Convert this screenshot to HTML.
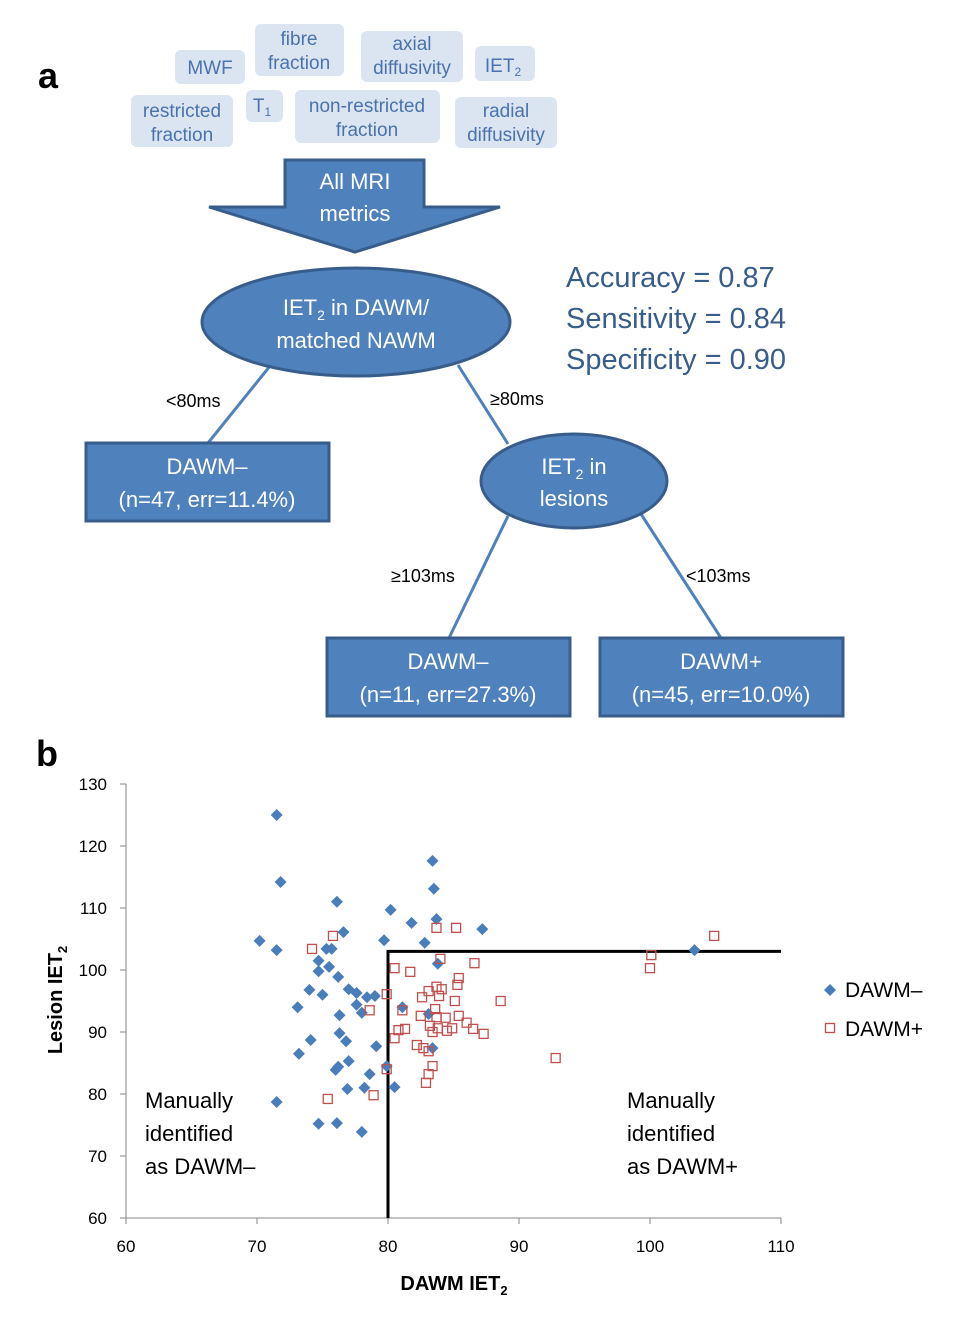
<!DOCTYPE html>
<html><head><meta charset="utf-8"><style>
html,body{margin:0;padding:0;background:#fff;}
svg{display:block;font-family:"Liberation Sans",sans-serif;}
</style></head><body>
<svg id="fig" width="976" height="1324" viewBox="0 0 976 1324">
<g>
<text x="38" y="88" font-size="36" font-weight="bold">a</text>
<g fill="#dbe5f1">
<rect x="175" y="50" width="70" height="34" rx="6"/>
<rect x="255" y="24" width="89" height="52" rx="6"/>
<rect x="361" y="31" width="102" height="51" rx="6"/>
<rect x="475" y="46" width="60" height="35" rx="6"/>
<rect x="131" y="95" width="102" height="52" rx="6"/>
<rect x="246" y="90" width="37" height="32" rx="6"/>
<rect x="295" y="90" width="145" height="53" rx="6"/>
<rect x="455" y="97" width="102" height="51" rx="6"/>
</g>
<g fill="#4a72ad" font-size="19" text-anchor="middle">
<text x="210" y="74">MWF</text>
<text x="299" y="45">fibre</text><text x="299" y="69">fraction</text>
<text x="412" y="50">axial</text><text x="412" y="74">diffusivity</text>
<text x="503" y="72">IET<tspan font-size="12" dy="4">2</tspan></text>
<text x="182" y="117">restricted</text><text x="182" y="141">fraction</text>
<text x="262" y="112">T<tspan font-size="12" dy="4">1</tspan></text>
<text x="367" y="112">non-restricted</text><text x="367" y="136">fraction</text>
<text x="506" y="117">radial</text><text x="506" y="141">diffusivity</text>
</g>
<polygon points="285,160 424,160 424,207 500,207 355,252 209,207 285,207" fill="#4f81bd" stroke="#385d8a" stroke-width="3"/>
<text x="355" y="189" fill="#fff" font-size="22" text-anchor="middle">All MRI</text>
<text x="355" y="221" fill="#fff" font-size="22" text-anchor="middle">metrics</text>
<g stroke="#4f81bd" stroke-width="3">
<line x1="270" y1="366" x2="208" y2="443"/><line x1="458" y1="365" x2="508" y2="444"/>
<line x1="508" y1="516" x2="449" y2="638"/><line x1="641" y1="514" x2="721" y2="638"/>
</g>
<ellipse cx="356" cy="322" rx="154" ry="54" fill="#4f81bd" stroke="#385d8a" stroke-width="3"/>
<text x="356" y="315" fill="#fff" font-size="22" text-anchor="middle">IET<tspan font-size="14" dy="5">2</tspan><tspan dy="-5"> in DAWM/</tspan></text>
<text x="356" y="348" fill="#fff" font-size="22" text-anchor="middle">matched NAWM</text>
<ellipse cx="574" cy="481" rx="93" ry="47" fill="#4f81bd" stroke="#385d8a" stroke-width="3"/>
<text x="574" y="474" fill="#fff" font-size="22" text-anchor="middle">IET<tspan font-size="14" dy="5">2</tspan><tspan dy="-5"> in</tspan></text>
<text x="574" y="506" fill="#fff" font-size="22" text-anchor="middle">lesions</text>
<g fill="#4f81bd" stroke="#385d8a" stroke-width="3">
<rect x="86" y="443" width="243" height="78"/>
<rect x="327" y="638" width="243" height="78"/>
<rect x="600" y="638" width="243" height="78"/>
</g>
<g fill="#fff" font-size="22" text-anchor="middle">
<text x="207" y="474">DAWM–</text><text x="207" y="507">(n=47, err=11.4%)</text>
<text x="448" y="669">DAWM–</text><text x="448" y="702">(n=11, err=27.3%)</text>
<text x="721" y="669">DAWM+</text><text x="721" y="702">(n=45, err=10.0%)</text>
</g>
<g font-size="18" fill="#000">
<text x="166" y="407">&lt;80ms</text><text x="490" y="405">≥80ms</text>
<text x="391" y="582">≥103ms</text><text x="686" y="582">&lt;103ms</text>
</g>
<g font-size="29" fill="#385d8a">
<text x="566" y="287">Accuracy = 0.87</text>
<text x="566" y="328">Sensitivity = 0.84</text>
<text x="566" y="369">Specificity = 0.90</text>
</g>
</g>
<g id="chart">
<text x="36" y="766" font-size="36" font-weight="bold">b</text>
</g>
</svg>
<script>
const xTicks=[60,70,80,90,100,110];
const yTicks=[60,70,80,90,100,110,120,130];
const minusX=[71.5,71.8,70.2,71.5,76.1,76.6,75.3,75.7,74.7,75.5,74.7,76.2,79.7,80.2,81.8,82.8,83.4,83.5,83.7,83.8,87.2,103.4,74.0,75.0,77.0,77.6,78.4,79.0,73.1,77.6,78.0,76.3,81.1,83.1,76.3,74.1,76.8,79.1,73.2,77.0,76.2,76.0,79.9,78.6,76.9,78.2,80.5,71.5,74.7,76.1,78.0,83.4];
const minusY=[125.0,114.2,104.7,103.2,111.0,106.1,103.4,103.4,101.5,100.5,99.8,98.9,104.8,109.7,107.6,104.4,117.6,113.1,108.2,101.0,106.6,103.2,96.8,96.0,96.9,96.3,95.6,95.8,94.0,94.4,93.1,92.7,94.0,92.9,89.8,88.7,88.5,87.7,86.5,85.3,84.4,83.9,84.5,83.2,80.8,81.0,81.1,78.7,75.2,75.3,73.9,87.4];
const plusX=[74.2,75.8,80.5,81.7,83.7,85.2,84.0,86.6,85.4,85.3,83.7,84.1,83.1,83.9,82.6,85.1,88.6,79.9,81.1,83.6,82.5,83.7,84.4,85.4,86.0,86.5,87.3,83.2,83.8,84.5,84.9,83.4,81.3,80.8,80.5,82.2,82.7,83.1,83.4,83.1,82.9,79.9,78.9,75.4,78.6,92.8,100.1,100.0,104.9];
const plusY=[103.4,105.5,100.3,99.7,106.8,106.8,101.8,101.1,98.7,97.6,97.3,96.9,96.6,95.8,95.6,95.0,95.0,96.1,93.5,93.7,92.6,92.4,92.3,92.6,91.5,90.5,89.7,91.0,90.6,90.2,90.6,90.0,90.5,90.3,89.0,87.9,87.4,86.9,84.5,83.2,81.8,84.0,79.8,79.2,93.5,85.8,102.4,100.3,105.5];
const thrX=80, thrY=103;
const NS='http://www.w3.org/2000/svg';
const g=document.getElementById('chart');
const X0=126,X1=781,Y0=1218,Y1=784;
const sx=v=>X0+(v-60)/(110-60)*(X1-X0);
const sy=v=>Y0-(v-60)/(130-60)*(Y0-Y1);
function mk(t,a,p){const e=document.createElementNS(NS,t);for(const k in a)e.setAttribute(k,a[k]);(p||g).appendChild(e);return e;}
const ax=mk('path',{d:`M${X0},${Y1}V${Y0}H${X1}`,stroke:'#868686',fill:'none','stroke-width':1});


xTicks.forEach(v=>{mk('line',{x1:sx(v),x2:sx(v),y1:Y0,y2:Y0+6,stroke:'#868686'});
const t=mk('text',{x:sx(v),y:1252,'font-size':17,'text-anchor':'middle'});t.textContent=v;

});
yTicks.forEach(v=>{mk('line',{x1:X0-6,x2:X0,y1:sy(v),y2:sy(v),stroke:'#868686'});
const t=mk('text',{x:107,y:sy(v)+6,'font-size':17,'text-anchor':'end'});t.textContent=v;

});
const th=mk('path',{d:`M${sx(thrX)},${Y0}V${sy(thrY)}H${sx(110)}`,stroke:'#000','stroke-width':3,fill:'none'});


minusX.forEach((v,i)=>{const x=sx(v),y=sy(minusY[i]);
const d=mk('polygon',{points:`${x},${y-6} ${x+6},${y} ${x},${y+6} ${x-6},${y}`,fill:'#4a7ebb'});

});
plusX.forEach((v,i)=>{const x=sx(v),y=sy(plusY[i]);
const r=mk('rect',{x:x-4.5,y:y-4.5,width:9,height:9,fill:'none',stroke:'#c0504d','stroke-width':1.3});

});
</script>
<svg width="976" height="1324" style="position:absolute;left:0;top:0;font-family:'Liberation Sans',sans-serif">
<polygon points="830,984 836,990 830,996 824,990" fill="#4a7ebb"/>
<text x="845" y="997" font-size="21">DAWM–</text>
<rect x="825.5" y="1023.5" width="9" height="9" fill="none" stroke="#c0504d" stroke-width="1.3"/>
<text x="845" y="1036" font-size="21">DAWM+</text>
<g font-size="22"><text x="145" y="1108">Manually</text><text x="145" y="1141">identified</text><text x="145" y="1174">as DAWM–</text></g>
<g font-size="22"><text x="627" y="1108">Manually</text><text x="627" y="1141">identified</text><text x="627" y="1174">as DAWM+</text></g>
<text x="454" y="1290" font-size="20" font-weight="bold" text-anchor="middle">DAWM IET<tspan font-size="13" dy="5">2</tspan></text>
<text transform="translate(62,1000) rotate(-90)" font-size="20" font-weight="bold" text-anchor="middle">Lesion IET<tspan font-size="13" dy="5">2</tspan></text>
</svg>
</body></html>
